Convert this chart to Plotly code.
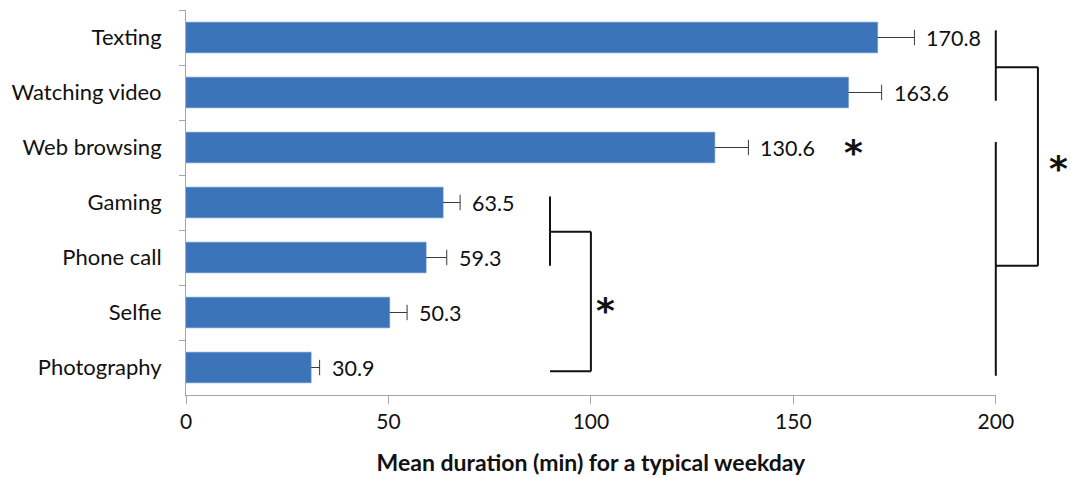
import plotly.graph_objects as go

# Mean daily duration per smartphone activity, with error bars
categories = ["Texting", "Watching video", "Web browsing", "Gaming",
              "Phone call", "Selfie", "Photography"]
mean_minutes = [170.8, 163.6, 130.6, 63.5, 59.3, 50.3, 30.9]
error_minutes = [9.1, 8.2, 8.3, 4.2, 5.1, 4.3, 2.1]
x_ticks = [0, 50, 100, 150, 200]

# Significance brackets: (x0, y0, x1, y1) in minutes / category index
brackets = [
    (200, -0.13, 200, 1.15),
    (200, 0.54, 210.4, 0.54),
    (210.4, 0.54, 210.4, 4.15),
    (200, 4.15, 210.4, 4.15),
    (200, 1.9, 200, 6.15),
    (89.9, 2.89, 89.9, 4.15),
    (89.9, 3.53, 100, 3.53),
    (100, 3.53, 100, 6.07),
    (89.9, 6.07, 100, 6.07),
]
# Significance stars: (x, category index)
stars = [(164.8, 2.0), (103.5, 4.87), (215.6, 2.29)]

W, H = 1071, 478
left, right_200, top, bottom = 186, 995.8, 10, 395
plot_w = W - left
main_frac = (right_200 - left) / plot_w
x_max = 200
font_family = "Lato"
ink = "#111"

upper = [m + e for m, e in zip(mean_minutes, error_minutes)]

fig = go.Figure()
fig.add_trace(go.Bar(
    y=categories, x=mean_minutes, orientation="h",
    width=0.556,
    marker=dict(color="#3b74b8", line=dict(color="#5a8ccb", width=0.6)),
    showlegend=False, hoverinfo="skip",
))

# One-sided (plus) error whiskers: line from the bar end to the cap
wx, wy = [], []
for cat, m, u in zip(categories, mean_minutes, upper):
    wx += [m, u, None]
    wy += [cat, cat, None]
fig.add_trace(go.Scatter(
    x=wx, y=wy, mode="lines", line=dict(color="#3a3a3a", width=1),
    showlegend=False, hoverinfo="skip",
))
fig.add_trace(go.Scatter(
    x=upper, y=categories, mode="markers",
    marker=dict(symbol="line-ns", size=11,
                line=dict(color="#3a3a3a", width=1)),
    showlegend=False, hoverinfo="skip",
))

annotations = []
for cat, m, u in zip(categories, mean_minutes, upper):
    annotations.append(dict(
        x=u, y=cat, xref="x", yref="y", text=f"{m:.1f}",
        showarrow=False, xanchor="left", yanchor="middle", xshift=10,
        font=dict(family=font_family, size=21.5, color=ink),
    ))
for sx, sy in stars:
    annotations.append(dict(
        x=sx, y=sy, xref="x2", yref="y2", text="<b>*</b>",
        showarrow=False, xanchor="center", yanchor="middle", yshift=-5,
        font=dict(family="DejaVu Sans", size=36, color=ink),
    ))

shapes = [dict(type="line", xref="x2", yref="y2", x0=a, y0=b, x1=c, y1=d,
               line=dict(color=ink, width=2)) for a, b, c, d in brackets]

axis_grey = "#a6a6a6"
fig.update_layout(
    width=W, height=H, autosize=False,
    margin=dict(l=left, r=0, t=top, b=H - bottom, pad=0, autoexpand=False),
    plot_bgcolor="rgba(0,0,0,0)", paper_bgcolor="white",
    xaxis=dict(domain=[0, main_frac], range=[0, x_max], tickvals=x_ticks,
               showgrid=False, zeroline=False, showline=True,
               linecolor=axis_grey, linewidth=1,
               ticks="outside", ticklen=8, tickcolor=axis_grey,
               tickfont=dict(family=font_family, size=21, color=ink),
               title=dict(text="<b>Mean duration (min) for a typical weekday</b>",
                          font=dict(family=font_family, size=23, color=ink),
                          standoff=22),
               fixedrange=True),
    yaxis=dict(type="category", range=[6.5, -0.5],
               categoryorder="array", categoryarray=categories,
               showgrid=False, zeroline=False, showline=True,
               linecolor=axis_grey, linewidth=1,
               ticks="outside", ticklen=6, tickcolor=axis_grey,
               tickson="boundaries", ticklabelstandoff=19,
               tickfont=dict(family=font_family, size=22, color=ink)),
    xaxis2=dict(domain=[0, 1], range=[0, x_max / main_frac], anchor="y2",
                visible=False, fixedrange=True),
    yaxis2=dict(range=[6.5, -0.5], anchor="x2", visible=False),
    annotations=annotations,
    shapes=shapes,
)

fig.write_html("out.html", config={"responsive": False})
